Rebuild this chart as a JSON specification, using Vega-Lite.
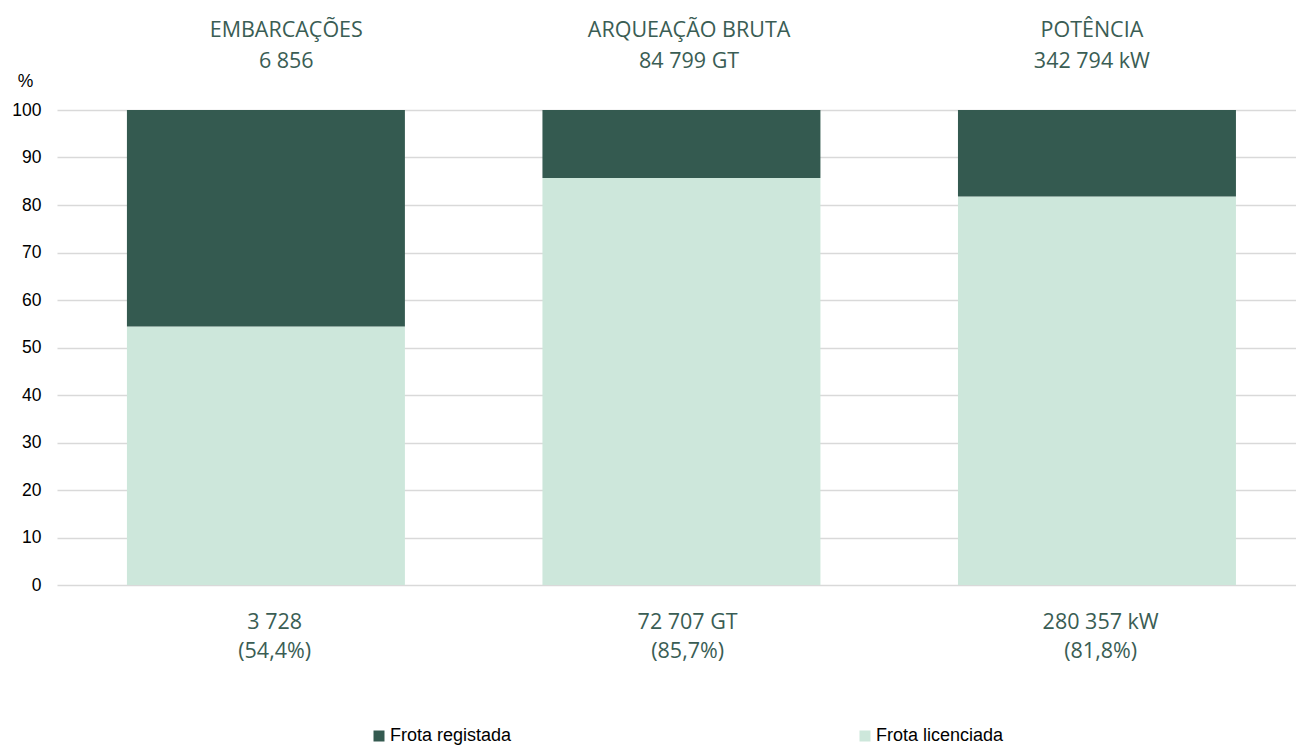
{
  "$schema": "https://vega.github.io/schema/vega-lite/v6.json",
  "width": 1239,
  "height": 475,
  "autosize": {"type": "none"},
  "padding": {"left": 57, "top": 110, "right": 0, "bottom": 160},
  "background": "white",
  "config": {"view": {"stroke": null}},
  "data": {
    "values": [
      {"cat": "EMBARCAÇÕES", "series": "Frota licenciada", "value": 54.4, "nome": "EMBARCAÇÕES", "total": "6 856", "valor": "3 728", "pct": "(54,4%)"},
      {"cat": "EMBARCAÇÕES", "series": "Frota registada", "value": 45.6, "nome": "EMBARCAÇÕES", "total": "6 856", "valor": "3 728", "pct": "(54,4%)"},
      {"cat": "ARQUEAÇÃO BRUTA", "series": "Frota licenciada", "value": 85.7, "nome": "ARQUEAÇÃO BRUTA", "total": "84 799 GT", "valor": "72 707 GT", "pct": "(85,7%)"},
      {"cat": "ARQUEAÇÃO BRUTA", "series": "Frota registada", "value": 14.3, "nome": "ARQUEAÇÃO BRUTA", "total": "84 799 GT", "valor": "72 707 GT", "pct": "(85,7%)"},
      {"cat": "POTÊNCIA", "series": "Frota licenciada", "value": 81.8, "nome": "POTÊNCIA", "total": "342 794 kW", "valor": "280 357 kW", "pct": "(81,8%)"},
      {"cat": "POTÊNCIA", "series": "Frota registada", "value": 18.2, "nome": "POTÊNCIA", "total": "342 794 kW", "valor": "280 357 kW", "pct": "(81,8%)"}
    ]
  },
  "resolve": {"scale": {"x": "independent"}},
  "layer": [
    {
      "mark": {"type": "bar"},
      "encoding": {
        "x": {
          "field": "cat",
          "type": "nominal",
          "sort": ["EMBARCAÇÕES", "ARQUEAÇÃO BRUTA", "POTÊNCIA"],
          "scale": {"paddingInner": 0.331, "paddingOuter": 0.1564, "align": 0.538},
          "axis": null
        },
        "y": {
          "field": "value",
          "type": "quantitative",
          "stack": "zero",
          "scale": {"domain": [0, 100], "nice": false},
          "axis": {
            "values": [0, 10, 20, 30, 40, 50, 60, 70, 80, 90, 100],
            "grid": true,
            "gridColor": "#d9d9d9",
            "gridWidth": 1.5,
            "ticks": false,
            "domain": false,
            "labelFont": "Liberation Sans",
            "labelFontSize": 17.5,
            "labelColor": "#000000",
            "labelPadding": 16,
            "title": "%",
            "titleAngle": 0,
            "titleX": -32,
            "titleY": -24,
            "titleAlign": "center",
            "titleBaseline": "alphabetic",
            "titleFont": "Liberation Sans",
            "titleFontSize": 17.5,
            "titleFontWeight": "normal",
            "titleColor": "#000000"
          }
        },
        "order": {"field": "series", "sort": "ascending"},
        "color": {
          "field": "series",
          "type": "nominal",
          "scale": {"domain": ["Frota registada", "Frota licenciada"], "range": ["#345a50", "#cde7db"]},
          "legend": {
            "title": null,
            "orient": "none",
            "legendX": 313,
            "legendY": 617,
            "direction": "horizontal",
            "columns": 2,
            "columnPadding": 344,
            "padding": 0,
            "symbolType": "square",
            "symbolSize": 121,
            "symbolStrokeWidth": 0,
            "symbolOpacity": 1,
            "labelFont": "Liberation Sans",
            "labelFontSize": 18,
            "labelColor": "#000000",
            "labelOffset": 2
          }
        }
      }
    },
    {
      "transform": [{"filter": "datum.series === 'Frota licenciada'"}],
      "encoding": {
        "x": {
          "field": "cat",
          "type": "nominal",
          "sort": ["EMBARCAÇÕES", "ARQUEAÇÃO BRUTA", "POTÊNCIA"],
          "scale": {"type": "point", "padding": 0.538, "align": 0.529},
          "axis": null
        }
      },
      "layer": [
        {
          "mark": {"type": "text", "font": "Open Sans", "fontSize": 21.5, "color": "#3a5d54", "baseline": "alphabetic", "align": "center"},
          "encoding": {"y": {"datum": 115.4}, "text": {"field": "nome"}}
        },
        {
          "mark": {"type": "text", "font": "Open Sans", "fontSize": 21.5, "color": "#3a5d54", "baseline": "alphabetic", "align": "center"},
          "encoding": {"y": {"datum": 108.8}, "text": {"field": "total"}}
        }
      ]
    },
    {
      "transform": [{"filter": "datum.series === 'Frota licenciada'"}],
      "encoding": {
        "x": {
          "field": "cat",
          "type": "nominal",
          "sort": ["EMBARCAÇÕES", "ARQUEAÇÃO BRUTA", "POTÊNCIA"],
          "scale": {"type": "point", "padding": 0.5, "align": 0.527},
          "axis": null
        }
      },
      "layer": [
        {
          "mark": {"type": "text", "font": "Open Sans", "fontSize": 21.5, "color": "#3a5d54", "baseline": "alphabetic", "align": "center"},
          "encoding": {"y": {"datum": -9.3}, "text": {"field": "valor"}}
        },
        {
          "mark": {"type": "text", "font": "Open Sans", "fontSize": 21.5, "color": "#3a5d54", "baseline": "alphabetic", "align": "center"},
          "encoding": {"y": {"datum": -15.4}, "text": {"field": "pct"}}
        }
      ]
    }
  ]
}
